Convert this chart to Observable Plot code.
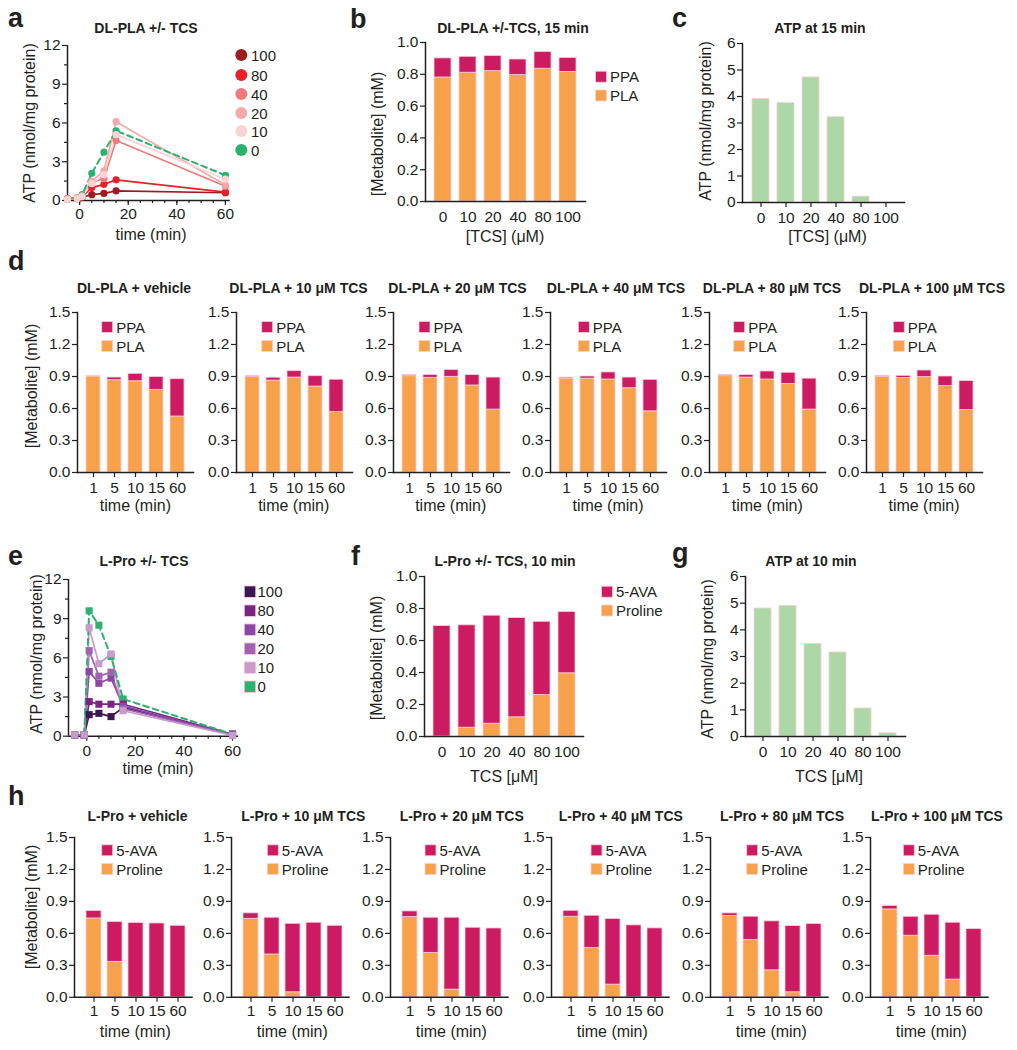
<!DOCTYPE html>
<html><head><meta charset="utf-8">
<script src="https://cdn.jsdelivr.net/npm/d3@7"></script>
<script src="https://cdn.jsdelivr.net/npm/@observablehq/plot@0.6"></script>
<style>
body{margin:0;background:#fff;}
#fig{position:relative;width:1017px;height:1050px;overflow:hidden;background:#fff;}
</style></head><body><div id="fig"></div>
<script>
// ---------------- DATA ----------------
// Panel a : ATP (nmol/mg protein), DL-PLA +/- TCS
const aTimes = [-5, -1, 1, 5, 10, 15, 60];
const aKeys = [100, 80, 40, 20, 10, 0];
const aATP_100 = [0.15, 0.15, 0.25, 0.45, 0.55, 0.75, 0.6];
const aATP_80  = [0.1, 0.15, 0.3, 1.0, 1.25, 1.6, 0.65];
const aATP_40  = [0.1, 0.2, 0.3, 1.4, 1.7, 4.65, 1.1];
const aATP_20  = [0.1, 0.2, 0.35, 1.5, 2.3, 6.1, 1.2];
const aATP_10  = [0.1, 0.15, 0.3, 1.3, 2.0, 5.1, 1.65];
const aATP_0   = [0.15, 0.2, 0.45, 2.1, 3.75, 5.4, 1.95];

// Panel b : DL-PLA +/- TCS, 15 min
const tcsCats = ["0", "10", "20", "40", "80", "100"];
const bPLA = [0.78, 0.81, 0.82, 0.795, 0.835, 0.815];
const bPPA = [0.12, 0.10, 0.095, 0.098, 0.105, 0.088];

// Panel c : ATP at 15 min
const cATP = [3.9, 3.75, 4.72, 3.22, 0.22, 0.0];

// Panel d : DL-PLA + TCS time courses
const dTimes = ["1", "5", "10", "15", "60"];
const dTitles = ["DL-PLA + vehicle", "DL-PLA + 10 \u03BCM TCS", "DL-PLA + 20 \u03BCM TCS", "DL-PLA + 40 \u03BCM TCS", "DL-PLA + 80 \u03BCM TCS", "DL-PLA + 100 \u03BCM TCS"];
const dPLA_0   = [0.90, 0.865, 0.855, 0.775, 0.525];
const dPLA_10  = [0.897, 0.862, 0.89, 0.806, 0.566];
const dPLA_20  = [0.903, 0.888, 0.897, 0.816, 0.59];
const dPLA_40  = [0.88, 0.88, 0.872, 0.79, 0.573];
const dPLA_80  = [0.903, 0.89, 0.872, 0.83, 0.59];
const dPLA_100 = [0.897, 0.885, 0.894, 0.81, 0.585];
const dPPA_0   = [0.005, 0.025, 0.07, 0.12, 0.35];
const dPPA_10  = [0.006, 0.026, 0.06, 0.097, 0.304];
const dPPA_20  = [0.01, 0.025, 0.063, 0.097, 0.3];
const dPPA_40  = [0.01, 0.02, 0.066, 0.1, 0.296];
const dPPA_80  = [0.01, 0.023, 0.075, 0.105, 0.29];
const dPPA_100 = [0.009, 0.021, 0.062, 0.09, 0.272];

// Panel e : ATP, L-Pro +/- TCS
const eTimes = [-5, -1, 1, 5, 10, 15, 60];
const eKeys = [100, 80, 40, 20, 10, 0];
const eATP_100 = [0.1, 0.1, 1.65, 1.75, 1.5, 2.2, 0.15];
const eATP_80  = [0.1, 0.1, 2.65, 2.45, 2.45, 2.45, 0.15];
const eATP_40  = [0.1, 0.1, 4.95, 4.05, 4.45, 2.3, 0.1];
const eATP_20  = [0.1, 0.1, 6.55, 4.6, 4.9, 2.1, 0.1];
const eATP_10  = [0.1, 0.1, 8.3, 5.55, 6.3, 1.95, 0.05];
const eATP_0   = [0.1, 0.1, 9.6, 8.5, 6.1, 2.85, 0.15];

// Panel f : L-Pro +/- TCS, 10 min
const fPro = [0.0, 0.055, 0.08, 0.12, 0.26, 0.395];
const fAVA = [0.69, 0.64, 0.675, 0.62, 0.457, 0.383];

// Panel g : ATP at 10 min
const gATP = [4.8, 4.9, 3.47, 3.15, 1.05, 0.12];

// Panel h : L-Pro + TCS time courses
const hTitles = ["L-Pro + vehicle", "L-Pro + 10 \u03BCM TCS", "L-Pro + 20 \u03BCM TCS", "L-Pro + 40 \u03BCM TCS", "L-Pro + 80 \u03BCM TCS", "L-Pro + 100 \u03BCM TCS"];
const hPro_0   = [0.74, 0.333, 0, 0, 0];
const hPro_10  = [0.737, 0.402, 0.047, 0, 0];
const hPro_20  = [0.753, 0.417, 0.072, 0, 0];
const hPro_40  = [0.756, 0.4625, 0.119, 0, 0];
const hPro_80  = [0.7625, 0.5375, 0.253, 0.047, 0];
const hPro_100 = [0.825, 0.578, 0.39, 0.166, 0];
const hAVA_0   = [0.07, 0.373, 0.697, 0.693, 0.671];
const hAVA_10  = [0.051, 0.345, 0.643, 0.70, 0.671];
const hAVA_20  = [0.053, 0.33, 0.675, 0.653, 0.646];
const hAVA_40  = [0.056, 0.303, 0.615, 0.675, 0.647];
const hAVA_80  = [0.025, 0.219, 0.46, 0.622, 0.6875];
const hAVA_100 = [0.031, 0.178, 0.385, 0.534, 0.64];

// ---------------- STYLE ----------------
const FONT = '"Liberation Sans", Arial, Helvetica, sans-serif';
const INK = "#231f20";
const MAG = "#cc1b61", ORA = "#f7a24b", GRN = "#acd8a7", EDGE = "#f9cdd8";
const aColors = ["#9e1b20", "#e8202a", "#ef7a7c", "#f5aaaa", "#fad4d3", "#2ab26e"];
const eColors = ["#3b1854", "#7a2482", "#8b47a5", "#a062b1", "#c89bcb", "#2ab26e"];
const TICKFS = 15.5;

const fig = document.getElementById("fig");
function place(svg, left, top) {
  svg.style.position = "absolute";
  svg.style.left = left + "px";
  svg.style.top = top + "px";
  fig.appendChild(svg);
}
function baseStyle() {
  return {fontFamily: FONT, fontSize: TICKFS + "px", color: INK, background: "transparent", overflow: "visible"};
}
const axText = {fontSize: TICKFS, fontFamily: FONT, fill: INK, stroke: INK};

// ---------- line panel ----------
function linePanel(o) {
  const m = {l: 42, r: 8, t: 8, b: 30};
  const left = o.fx0 - m.l, top = o.fy0 - m.t;
  const W = o.fx1 - o.fx0 + m.l + m.r, H = o.fy1 - o.fy0 + m.t + m.b;
  const rows = [];
  o.keys.forEach((k, i) => o.series[i].forEach((v, j) => rows.push({t: o.times[j], v, k})));
  const solid = rows.filter(r => r.k !== 0);
  const dashed = rows.filter(r => r.k === 0);
  const svg = Plot.plot({
    width: W, height: H, marginLeft: m.l, marginRight: m.r, marginTop: m.t, marginBottom: m.b,
    style: baseStyle(),
    x: {domain: o.xdom},
    y: {domain: [0, 12]},
    color: {type: "ordinal", domain: o.keys, range: o.colors},
    marks: [
      Plot.axisY(d3.range(1.5, 12, 3), {...axText, tickSize: 3, tickFormat: () => "", label: null, strokeWidth: 1.2}),
      Plot.axisY({...axText, ticks: [0, 3, 6, 9, 12], tickSize: 5, tickPadding: 2, label: null, strokeWidth: 1.2}),
      Plot.axisX(d3.range(-5, 61, 5), {...axText, tickSize: 3, tickFormat: () => "", label: null, strokeWidth: 1.2}),
      Plot.axisX({...axText, ticks: [0, 20, 40, 60], tickSize: 5, tickPadding: o.xpad, label: null, strokeWidth: 1.2}),
      Plot.ruleX([o.xdom[0]], {stroke: INK, strokeWidth: 1.5}),
      Plot.ruleY([0], {stroke: INK, strokeWidth: 1.5}),
      Plot.line(solid, {x: "t", y: "v", z: "k", stroke: "k", strokeWidth: 1.7}),
      Plot.line(dashed, {x: "t", y: "v", z: "k", stroke: "k", strokeWidth: 2, strokeDasharray: "6,4"}),
      Plot.dot(dashed, {x: "t", y: "v", fill: "k", r: o.r, symbol: o.symbol}),
      Plot.dot(solid, {x: "t", y: "v", fill: "k", r: o.r, symbol: o.symbol})
    ]
  });
  place(svg, left, top);
}

// ---------- bar panel ----------
function barPanel(o) {
  const m = {l: 46, r: 6, t: 8, b: 30};
  const left = o.fx0 - m.l, top = o.fy0 - m.t;
  const W = o.fx1 - o.fx0 + m.l + m.r, H = o.fy1 - o.fy0 + m.t + m.b;
  const n = o.cats.length, step = (o.bn - o.b1) / (n - 1);
  const svg = Plot.plot({
    width: W, height: H, marginLeft: m.l, marginRight: m.r, marginTop: m.t, marginBottom: m.b,
    style: baseStyle(),
    x: {type: "band", domain: o.cats, range: [o.b1 - o.bw / 2 - left, o.bn + o.bw / 2 - left],
        paddingInner: 1 - o.bw / step, paddingOuter: 0, align: 0.5},
    y: {domain: o.ydom},
    color: {domain: o.colorDomain, range: o.colorRange},
    marks: [
      Plot.barY(o.rows, Plot.stackY({x: "x", y: "v", fill: "k", stroke: EDGE, strokeWidth: 0.8})),
      Plot.frame({anchor: "left", stroke: INK, strokeWidth: 1.5}),
      Plot.frame({anchor: "bottom", stroke: INK, strokeWidth: 1.5}),
      Plot.axisY({...axText, ticks: o.yticks, tickFormat: o.fmt, tickSize: 5, tickPadding: 2, label: null, strokeWidth: 1.2}),
      Plot.axisX({...axText, tickSize: o.xTick, tickPadding: o.xPad, label: null, strokeWidth: 1.2})
    ]
  });
  place(svg, left, top);
}
function stackRows(cats, lowerKey, lower, upperKey, upper) {
  return cats.map((x, j) => ({x, k: lowerKey, v: lower[j]}))
    .concat(cats.map((x, j) => ({x, k: upperKey, v: upper[j]})));
}

// ---------------- PANELS ----------------
linePanel({fx0: 66.7, fx1: 229.5, fy0: 45, fy1: 200, xdom: [-5, 62], xpad: 2,
  times: aTimes, keys: aKeys, colors: aColors,
  series: [aATP_100, aATP_80, aATP_40, aATP_20, aATP_10, aATP_0], r: 3.6, symbol: "circle"});

barPanel({fx0: 425, fx1: 585, fy0: 42, fy1: 201, cats: tcsCats, b1: 441.7, bn: 568.7, bw: 17,
  ydom: [0, 1], yticks: [0, 0.2, 0.4, 0.6, 0.8, 1.0], fmt: ".1f", xTick: 0, xPad: 9,
  rows: stackRows(tcsCats, "PLA", bPLA, "PPA", bPPA), colorDomain: ["PLA", "PPA"], colorRange: [ORA, MAG]});

barPanel({fx0: 742, fx1: 904, fy0: 42.7, fy1: 201.7, cats: tcsCats, b1: 760, bn: 886, bw: 17,
  ydom: [0, 6], yticks: [0, 1, 2, 3, 4, 5, 6], fmt: "d", xTick: 5, xPad: 4,
  rows: tcsCats.map((x, j) => ({x, k: "ATP", v: cATP[j]})), colorDomain: ["ATP"], colorRange: [GRN]});

const dPLA = [dPLA_0, dPLA_10, dPLA_20, dPLA_40, dPLA_80, dPLA_100];
const dPPA = [dPPA_0, dPPA_10, dPPA_20, dPPA_40, dPPA_80, dPPA_100];
const dB1 = [92.4, 250.7, 407.7, 565, 724.3, 881];
dB1.forEach((b1, i) => {
  barPanel({fx0: b1 - 15, fx1: b1 + 87 + 14, fy0: 311.7, fy1: 471.7, cats: dTimes, b1, bn: b1 + 87, bw: 15,
    ydom: [0, 1.5], yticks: [0, 0.3, 0.6, 0.9, 1.2, 1.5], fmt: ".1f", xTick: 5, xPad: 4,
    rows: stackRows(dTimes, "PLA", dPLA[i], "PPA", dPPA[i]), colorDomain: ["PLA", "PPA"], colorRange: [ORA, MAG]});
});

linePanel({fx0: 68.3, fx1: 238.4, fy0: 579.3, fy1: 736, xdom: [-7.5, 62.5], xpad: 4,
  times: eTimes, keys: eKeys, colors: eColors,
  series: [eATP_100, eATP_80, eATP_40, eATP_20, eATP_10, eATP_0], r: 4, symbol: "square"});

barPanel({fx0: 424, fx1: 583, fy0: 575.7, fy1: 735.7, cats: tcsCats, b1: 440.7, bn: 566, bw: 16.7,
  ydom: [0, 1], yticks: [0, 0.2, 0.4, 0.6, 0.8, 1.0], fmt: ".1f", xTick: 0, xPad: 9,
  rows: stackRows(tcsCats, "Proline", fPro, "5-AVA", fAVA), colorDomain: ["Proline", "5-AVA"], colorRange: [ORA, MAG]});

barPanel({fx0: 745, fx1: 905, fy0: 576, fy1: 736, cats: tcsCats, b1: 761.7, bn: 887.3, bw: 16.7,
  ydom: [0, 6], yticks: [0, 1, 2, 3, 4, 5, 6], fmt: "d", xTick: 5, xPad: 4,
  rows: tcsCats.map((x, j) => ({x, k: "ATP", v: gATP[j]})), colorDomain: ["ATP"], colorRange: [GRN]});

const hPro = [hPro_0, hPro_10, hPro_20, hPro_40, hPro_80, hPro_100];
const hAVA = [hAVA_0, hAVA_10, hAVA_20, hAVA_40, hAVA_80, hAVA_100];
const hB1 = [92.3, 249.3, 408.3, 569.3, 728.3, 888.3];
hB1.forEach((b1, i) => {
  barPanel({fx0: b1 - 18, fx1: b1 + 86.5 + 13, fy0: 836.7, fy1: 996.5, cats: dTimes, b1, bn: b1 + 86.5, bw: 15,
    ydom: [0, 1.5], yticks: [0, 0.3, 0.6, 0.9, 1.2, 1.5], fmt: ".1f", xTick: 5, xPad: 3,
    rows: stackRows(dTimes, "Proline", hPro[i], "5-AVA", hAVA[i]), colorDomain: ["Proline", "5-AVA"], colorRange: [ORA, MAG]});
});

// ---------------- TEXT OVERLAY ----------------
const ov = d3.create("svg").attr("width", 1017).attr("height", 1050)
  .style("position", "absolute").style("left", "0px").style("top", "0px")
  .style("font-family", FONT).attr("fill", INK);
function txt(s, x, y, opt = {}) {
  const t = ov.append("text").attr("font-size", opt.size || 14.5)
    .attr("font-weight", opt.weight || "normal").attr("text-anchor", opt.anchor || "start").text(s);
  if (opt.rotate) t.attr("transform", `translate(${x},${y}) rotate(-90)`);
  else t.attr("x", x).attr("y", y);
}
const L = {size: 27, weight: "bold"};
const T = {size: 14, weight: "bold", anchor: "middle"};
const AX = {size: 16, anchor: "middle"};
const AY = {size: 16, anchor: "middle", rotate: true};

// letters
txt("a", 8, 27, L); txt("b", 350, 28, L); txt("c", 672, 27, L); txt("d", 8, 270, L);
txt("e", 8, 565, L); txt("f", 351, 565, L); txt("g", 672, 562, L); txt("h", 8, 805, L);

// titles
txt("DL-PLA +/- TCS", 146, 33, T);
txt("DL-PLA +/-TCS, 15 min", 513, 33, T);
txt("ATP at 15 min", 820, 33, T);
[134, 298.5, 457.5, 616, 772, 932].forEach((x, i) => txt(dTitles[i], x, 292.5, T));
txt("L-Pro +/- TCS", 144, 566, T);
txt("L-Pro +/- TCS, 10 min", 505, 566, T);
txt("ATP at 10 min", 811, 566, T);
[137.5, 303.3, 461.7, 620.8, 782, 937].forEach((x, i) => txt(hTitles[i], x, 820.5, T));

// axis titles
txt("ATP (nmol/mg protein)", 35, 123, AY);
txt("[Metabolite] (mM)", 383, 134, AY);
txt("ATP (nmol/mg protein)", 711, 121, AY);
txt("[Metabolite] (mM)", 37, 386, AY);
txt("ATP (nmol/mg protein)", 42, 654, AY);
txt("[Metabolite] (mM)", 382, 658, AY);
txt("ATP (nmol/mg protein)", 713, 659, AY);
txt("[Metabolite] (mM)", 37, 907, AY);

txt("time (min)", 151, 240, AX);
txt("[TCS] (\u03BCM)", 505, 241.5, AX);
txt("[TCS] (\u03BCM)", 827.5, 241.5, AX);
dB1.forEach(b1 => txt("time (min)", b1 + 43, 510.5, AX));
txt("time (min)", 158, 773.5, AX);
txt("TCS [\u03BCM]", 504, 781.5, AX);
txt("TCS [\u03BCM]", 829, 781.5, AX);
hB1.forEach(b1 => txt("time (min)", b1 + 43, 1037, AX));

// legends
function swatchSq(x, y, size, color) {
  ov.append("rect").attr("x", x - size / 2).attr("y", y - size / 2).attr("width", size).attr("height", size)
    .attr("fill", color).attr("stroke", EDGE).attr("stroke-width", 0.8);
}
const aLegY = [55, 75, 94, 113, 131, 150];
aKeys.forEach((k, i) => {
  ov.append("circle").attr("cx", 241.3).attr("cy", aLegY[i]).attr("r", 6).attr("fill", aColors[i]);
  txt(String(k), 251, aLegY[i] + 5.5, {size: 15});
});
const eLegY = [591.7, 610.7, 629.7, 648.7, 667.7, 686.7];
eKeys.forEach((k, i) => {
  swatchSq(250, eLegY[i], 11.5, eColors[i]);
  txt(String(k), 257.5, eLegY[i] + 5.5, {size: 15});
});
function legend2(x, y1, y2, topName, bottomName) {
  swatchSq(x + 5.5, y1, 11, MAG); txt(topName, x + 14.5, y1 + 5.5, {size: 15});
  swatchSq(x + 5.5, y2, 11, ORA); txt(bottomName, x + 14.5, y2 + 5.5, {size: 15});
}
legend2(595.5, 76.7, 95.5, "PPA", "PLA");
legend2(601.5, 591.7, 610.5, "5-AVA", "Proline");
[101.7, 261.7, 419, 578.3, 733.7, 893.3].forEach(x => legend2(x, 327, 346, "PPA", "PLA"));
[101.7, 267.3, 425, 591, 746.7, 903.3].forEach(x => legend2(x, 850.3, 869, "5-AVA", "Proline"));

fig.appendChild(ov.node());
</script></body></html>
